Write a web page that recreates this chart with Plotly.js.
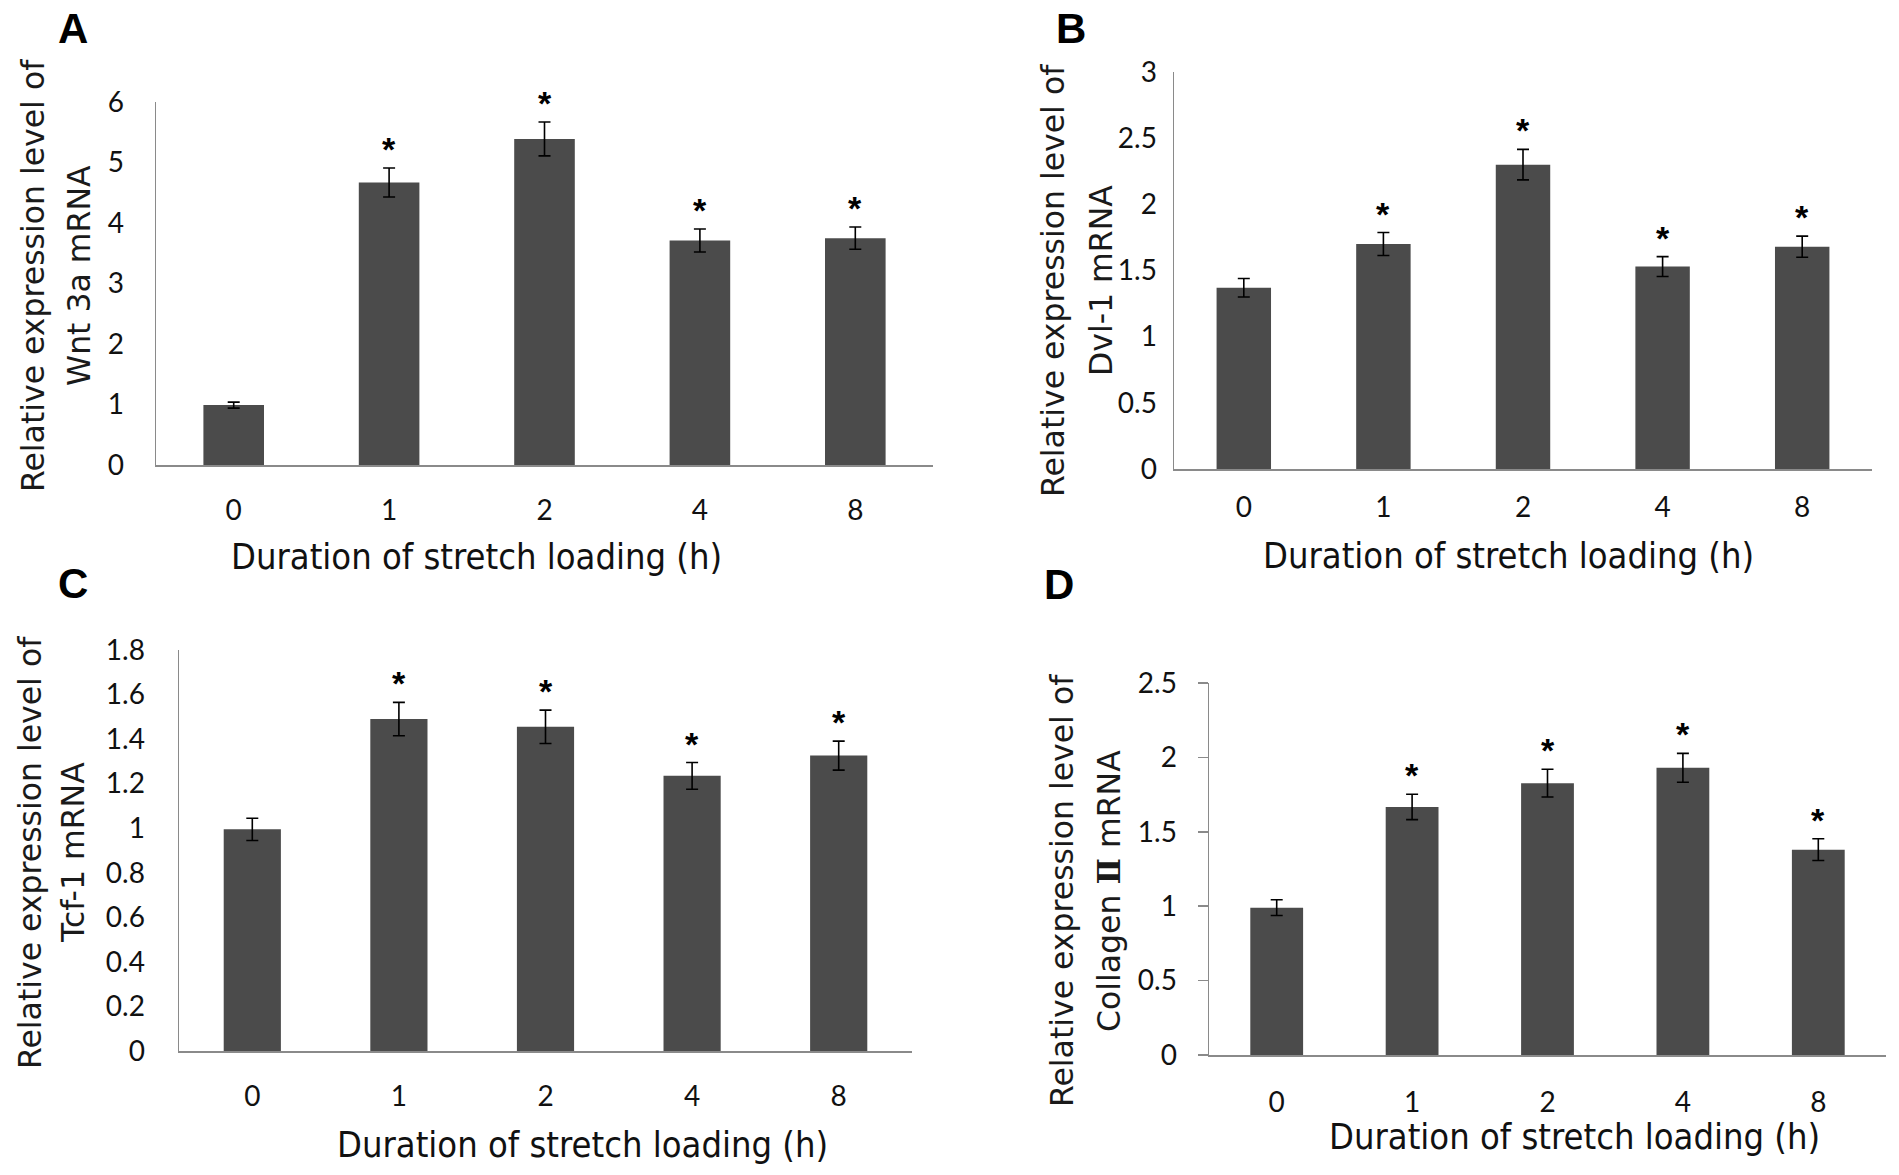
<!DOCTYPE html>
<html>
<head>
<meta charset="utf-8">
<script src="https://cdn.plot.ly/plotly-3.0.1.min.js"></script>
<style>
  html, body { margin: 0; padding: 0; background: #fff; }
  #chart { width: 1899px; height: 1175px; }
</style>
</head>
<body>
<div id="chart"></div>
<script>
// ---- Data ----
const categories = ['0', '1', '2', '4', '8'];

const wnt3aValues = [0.99, 4.67, 5.39, 3.71, 3.75];
const wnt3aErrors = [0.05, 0.24, 0.28, 0.19, 0.185];
const wnt3aSig = [false, true, true, true, true];

const dvl1Values = [1.37, 1.70, 2.30, 1.53, 1.68];
const dvl1Errors = [0.07, 0.087, 0.115, 0.075, 0.08];
const dvl1Sig = [false, true, true, true, true];

const tcf1Values = [0.995, 1.49, 1.455, 1.235, 1.326];
const tcf1Errors = [0.05, 0.075, 0.075, 0.06, 0.065];
const tcf1Sig = [false, true, true, true, true];

const col2Values = [0.99, 1.667, 1.827, 1.93, 1.38];
const col2Errors = [0.053, 0.085, 0.093, 0.097, 0.073];
const col2Sig = [false, true, true, true, true];

const xTitle = 'Duration of stretch loading (h)';
const yTitleLine1 = 'Relative expression level of';
const yTitleLine2A = 'Wnt 3a mRNA';
const yTitleLine2B = 'Dvl-1 mRNA';
const yTitleLine2C = 'Tcf-1 mRNA';
const yTitleLine2D = 'Collagen <span style="font-family:\'DejaVu Serif\';font-weight:bold">Ⅱ</span> mRNA';
const panelLetters = ['A', 'B', 'C', 'D'];

// ---- Layout helpers ----
const W = 1899, H = 1175;
const px = x => x / W;
const py = y => 1 - y / H;

const NARROW = '"Liberation Sans Narrow", "DejaVu Sans Condensed", sans-serif';
const TICKF = 'Lato, "Open Sans", sans-serif';
const WIDE = '"DejaVu Sans", "Verdana", sans-serif';
const BAR_COLOR = '#4b4b4b';
const AXIS_COLOR = '#8a8a8a';

const panels = [
  { vals: wnt3aValues, errs: wnt3aErrors, sig: wnt3aSig, line2: yTitleLine2A, letter: panelLetters[0],
    x0: 156, x1: 933, yTop: 102, yBot: 465, max: 6, dtick: 1, ystand: 25, xstand: 20, ticks: false,
    t1x: 33, t2x: 79, ty: 276, xtx: 476, xty: 556, lx: 73, ly: 29 },
  { vals: dvl1Values, errs: dvl1Errors, sig: dvl1Sig, line2: yTitleLine2B, letter: panelLetters[1],
    x0: 1174, x1: 1872, yTop: 72, yBot: 469, max: 3, dtick: 0.5, ystand: 10, xstand: 13, ticks: false,
    t1x: 1053, t2x: 1101, ty: 281, xtx: 1508, xty: 555, lx: 1071, ly: 29 },
  { vals: tcf1Values, errs: tcf1Errors, sig: tcf1Sig, line2: yTitleLine2C, letter: panelLetters[2],
    x0: 179, x1: 912, yTop: 650, yBot: 1051, max: 1.8, dtick: 0.2, ystand: 27, xstand: 20, ticks: false,
    t1x: 30, t2x: 73, ty: 853, xtx: 582, xty: 1144, lx: 73, ly: 583 },
  { vals: col2Values, errs: col2Errors, sig: col2Sig, line2: yTitleLine2D, letter: panelLetters[3],
    x0: 1209, x1: 1886, yTop: 683, yBot: 1055, max: 2.5, dtick: 0.5, ystand: 15, xstand: 22, ticks: true,
    t1x: 1062, t2x: 1108, ty: 891, xtx: 1574, xty: 1136, lx: 1059, ly: 585 }
];

const traces = [];
const annotations = [];
const layout = {
  width: W, height: H,
  margin: { l: 0, r: 0, t: 0, b: 0, pad: 0 },
  paper_bgcolor: '#fff', plot_bgcolor: '#fff',
  showlegend: false,
  bargap: 0.61,
  annotations: annotations
};

panels.forEach((p, i) => {
  const n = i + 1;
  const xa = n === 1 ? 'x' : 'x' + n;
  const ya = n === 1 ? 'y' : 'y' + n;
  traces.push({
    type: 'bar', x: categories, y: p.vals, xaxis: xa, yaxis: ya,
    marker: { color: BAR_COLOR, line: { width: 0 } },
    error_y: { type: 'data', array: p.errs, visible: true, color: '#000', thickness: 1.6, width: 6 },
    hoverinfo: 'x+y'
  });
  layout['xaxis' + (n === 1 ? '' : n)] = {
    domain: [px(p.x0), px(p.x1)], anchor: ya,
    type: 'category', range: [-0.5, 4.5],
    showline: true, linecolor: AXIS_COLOR, linewidth: 1.5,
    showgrid: false, zeroline: false, ticks: '',
    ticklabelstandoff: p.xstand,
    tickfont: { family: TICKF, size: 28, color: '#111' }
  };
  layout['yaxis' + (n === 1 ? '' : n)] = {
    domain: [py(p.yBot), py(p.yTop)], anchor: xa,
    range: [0, p.max], dtick: p.dtick, tick0: 0,
    showline: true, linecolor: AXIS_COLOR, linewidth: 1.5,
    showgrid: false, zeroline: false,
    ticks: p.ticks ? 'outside' : '', ticklen: 10, tickwidth: 1.5, tickcolor: AXIS_COLOR,
    ticklabelstandoff: p.ystand,
    tickfont: { family: TICKF, size: 28, color: '#111' }
  };
  // significance asterisks (x given as category index)
  categories.forEach((c, k) => {
    if (p.sig[k]) {
      annotations.push({
        xref: xa, yref: ya, x: k, y: p.vals[k] + p.errs[k],
        text: '<b>*</b>', showarrow: false, yanchor: 'bottom', yshift: -2,
        font: { family: '"Liberation Sans", Arial, sans-serif', size: 34, color: '#000' }
      });
    }
  });
  // y title two lines
  [[p.t1x, yTitleLine1], [p.t2x, p.line2]].forEach(([lx, txt]) => {
    annotations.push({
      xref: 'paper', yref: 'paper', x: px(lx), y: py(p.ty),
      xanchor: 'center', yanchor: 'middle', textangle: -90,
      text: txt, showarrow: false,
      font: { family: WIDE, size: 31.5, color: '#1a1a1a' }
    });
  });
  // x title
  annotations.push({
    xref: 'paper', yref: 'paper', x: px(p.xtx), y: py(p.xty),
    xanchor: 'center', yanchor: 'middle',
    text: xTitle, showarrow: false,
    font: { family: NARROW, size: 36, color: '#111' }
  });
  // panel letter
  annotations.push({
    xref: 'paper', yref: 'paper', x: px(p.lx), y: py(p.ly),
    xanchor: 'center', yanchor: 'middle',
    text: '<b>' + p.letter + '</b>', showarrow: false,
    font: { family: '"Liberation Sans", Arial, sans-serif', size: 42, color: '#000' }
  });
});

Plotly.newPlot('chart', traces, layout, { displayModeBar: false, staticPlot: true });
</script>
</body>
</html>
